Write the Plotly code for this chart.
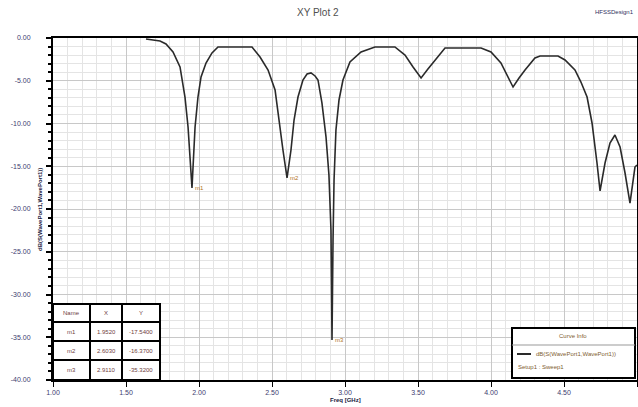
import plotly.graph_objects as go

# ---- data ----
freq = [1.637, 1.733, 1.774, 1.822, 1.870, 1.904, 1.925, 1.938, 1.952, 1.973, 1.993, 2.014,
        2.048, 2.089, 2.130, 2.247, 2.363, 2.418, 2.473, 2.521, 2.555, 2.575, 2.603, 2.630,
        2.651, 2.678, 2.712, 2.740, 2.767, 2.795, 2.815, 2.842, 2.870, 2.890, 2.904, 2.911,
        2.918, 2.925, 2.938, 2.959, 2.986, 3.034, 3.110, 3.205, 3.342, 3.411, 3.466, 3.521,
        3.568, 3.616, 3.685, 3.932, 4.000, 4.068, 4.151, 4.192, 4.233, 4.301, 4.336, 4.459,
        4.507, 4.575, 4.616, 4.658, 4.692, 4.726, 4.747, 4.781, 4.815, 4.849, 4.884, 4.918,
        4.952, 4.986, 5.000]
s11_db = [-0.12, -0.35, -0.70, -1.64, -3.39, -6.90, -10.41, -14.27, -17.54, -10.41, -6.90, -4.56,
          -2.92, -1.75, -1.05, -1.05, -1.05, -2.22, -3.74, -6.08, -10.76, -13.10, -16.37, -13.10,
          -9.59, -6.90, -4.91, -4.21, -4.09, -4.44, -4.91, -7.60, -11.58, -16.02, -22.46, -35.32,
          -23.63, -16.61, -10.76, -7.25, -4.91, -2.81, -1.64, -1.05, -1.05, -1.99, -3.39, -4.68,
          -3.63, -2.57, -1.17, -1.17, -1.64, -2.92, -5.73, -4.68, -3.74, -2.34, -2.11, -2.11,
          -2.57, -3.74, -5.15, -6.90, -9.94, -14.62, -17.89, -14.62, -12.28, -11.35, -12.75, -15.79,
          -19.30, -15.09, -14.85]

marker_names = ["m1", "m2", "m3"]
marker_idx = [8, 22, 35]

x_ticks = [1.0, 1.5, 2.0, 2.5, 3.0, 3.5, 4.0, 4.5, 5.0]
y_ticks = [0, -5, -10, -15, -20, -25, -30, -35, -40]

title_text = "XY Plot 2"
design_text = "HFSSDesign1"
y_title = "dB(S(WavePort1,WavePort1))"
x_title = "Freq [GHz]"
curve_name = "dB(S(WavePort1,WavePort1))"
setup_name = "Setup1 : Sweep1"

FONT = "Liberation Sans, Arial, sans-serif"

fig = go.Figure()
fig.add_trace(go.Scatter(x=freq, y=s11_db, mode="lines",
                         line=dict(color="#2a2a2a", width=1.6), showlegend=False,
                         hoverinfo="x+y"))

W, H = 638, 407
L, R, T, B = 53, 637, 38, 380          # plot area in pixels
pw, ph = R - L, B - T


def px(xp):
    return (xp - L) / pw


def py(yp):
    return (B - yp) / ph


annotations = []
shapes = []

# marker labels
for name, i in zip(marker_names, marker_idx):
    annotations.append(dict(x=freq[i], y=s11_db[i], xref="x", yref="y", text=name,
                            showarrow=False, xanchor="left", yanchor="middle", xshift=1,
                            font=dict(size=6, color="#b07020", family=FONT)))

# marker table
col_x = [53, 90, 122, 160]
row_y = [304, 322, 341, 360, 380]
shapes.append(dict(type="rect", xref="paper", yref="paper", x0=px(col_x[0]), x1=px(col_x[-1]),
                   y0=py(row_y[-1]), y1=py(row_y[0]), line=dict(color="black", width=2),
                   fillcolor="white", layer="above"))
for cx in col_x[1:-1]:
    shapes.append(dict(type="line", xref="paper", yref="paper", x0=px(cx), x1=px(cx),
                       y0=py(row_y[-1]), y1=py(row_y[0]), line=dict(color="black", width=2)))
for ry in row_y[1:-1]:
    shapes.append(dict(type="line", xref="paper", yref="paper", x0=px(col_x[0]), x1=px(col_x[-1]),
                       y0=py(ry), y1=py(ry), line=dict(color="black", width=2)))
rows = [["Name", "X", "Y"]] + [[n, f"{freq[i]:.4f}", f"{s11_db[i]:.4f}"]
                               for n, i in zip(marker_names, marker_idx)]
for r, row in enumerate(rows):
    for c, txt in enumerate(row):
        annotations.append(dict(x=px((col_x[c] + col_x[c + 1]) / 2),
                                y=py((row_y[r] + row_y[r + 1]) / 2),
                                xref="paper", yref="paper", text=txt, showarrow=False,
                                xanchor="center", yanchor="middle",
                                font=dict(size=6, color="#704040", family=FONT)))

# legend box (Curve Info)
shapes.append(dict(type="rect", xref="paper", yref="paper", x0=px(512), x1=px(635),
                   y0=py(378), y1=py(328), line=dict(color="black", width=2),
                   fillcolor="white", layer="above"))
shapes.append(dict(type="line", xref="paper", yref="paper", x0=px(512), x1=px(635),
                   y0=py(345), y1=py(345), line=dict(color="#999999", width=1)))
shapes.append(dict(type="line", xref="paper", yref="paper", x0=px(517), x1=px(531),
                   y0=py(354), y1=py(354), line=dict(color="#2a2a2a", width=2)))
annotations.append(dict(x=px(573), y=py(336), xref="paper", yref="paper", text="Curve Info",
                        showarrow=False, xanchor="center", yanchor="middle",
                        font=dict(size=6, color="#806030", family=FONT)))
annotations.append(dict(x=px(534), y=py(354), xref="paper", yref="paper", text=curve_name,
                        showarrow=False, xanchor="left", yanchor="middle",
                        font=dict(size=6, color="#806030", family=FONT)))
annotations.append(dict(x=px(516), y=py(367), xref="paper", yref="paper", text=setup_name,
                        showarrow=False, xanchor="left", yanchor="middle",
                        font=dict(size=6, color="#806030", family=FONT)))

# title / design name / axis titles
annotations.append(dict(x=px(318), y=py(12), xref="paper", yref="paper", text=title_text,
                        showarrow=False, xanchor="center", yanchor="middle",
                        font=dict(size=10, color="#505050", family=FONT)))
annotations.append(dict(x=px(636), y=py(12), xref="paper", yref="paper",
                        text=design_text, showarrow=False, xanchor="right", yanchor="middle",
                        font=dict(size=6, color="#303060", family=FONT)))
annotations.append(dict(x=px(40), y=py(210), xref="paper", yref="paper", text="<b>" + y_title + "</b>",
                        showarrow=False, xanchor="center", yanchor="middle", textangle=-90,
                        font=dict(size=6, color="#202040", family=FONT)))
annotations.append(dict(x=px(345), y=py(400), xref="paper", yref="paper", text="<b>" + x_title + "</b>",
                        showarrow=False, xanchor="center", yanchor="middle",
                        font=dict(size=6, color="#202040", family=FONT)))

fig.update_layout(
    width=W, height=H,
    margin=dict(l=L, r=W - R, t=T, b=H - B, autoexpand=False),
    paper_bgcolor="white", plot_bgcolor="white",
    font=dict(family=FONT, size=7, color="#303030"),
    annotations=annotations, shapes=shapes,
    xaxis=dict(range=[x_ticks[0], x_ticks[-1]], tickvals=x_ticks,
               ticktext=[f"{v:.2f}" for v in x_ticks],
               showline=True, linecolor="black", linewidth=2, mirror=True,
               ticks="outside", ticklen=5, tickcolor="black", tickwidth=1,
               showgrid=True, gridcolor="#c8c8c8", gridwidth=1, zeroline=False,
               tickfont=dict(size=7, color="#404070"),
               minor=dict(dtick=0.1, showgrid=True, gridcolor="#e4e4e4", gridwidth=1, ticks="")),
    yaxis=dict(range=[y_ticks[-1], y_ticks[0]], tickvals=y_ticks,
               ticktext=[f"{v:.2f}" for v in y_ticks],
               showline=True, linecolor="black", linewidth=2, mirror=True,
               ticks="outside", ticklen=5, tickcolor="black", tickwidth=2,
               ticklabelstandoff=14,
               showgrid=True, gridcolor="#c8c8c8", gridwidth=1, zeroline=False,
               tickfont=dict(size=7, color="#404070"),
               minor=dict(dtick=1, showgrid=True, gridcolor="#e4e4e4", gridwidth=1,
                          ticks="outside", ticklen=3, tickcolor="black", tickwidth=2)),
)

fig.write_html("out.html", config={"displayModeBar": False},
               post_script="document.body.style.margin='0';document.body.style.overflow='hidden';")
